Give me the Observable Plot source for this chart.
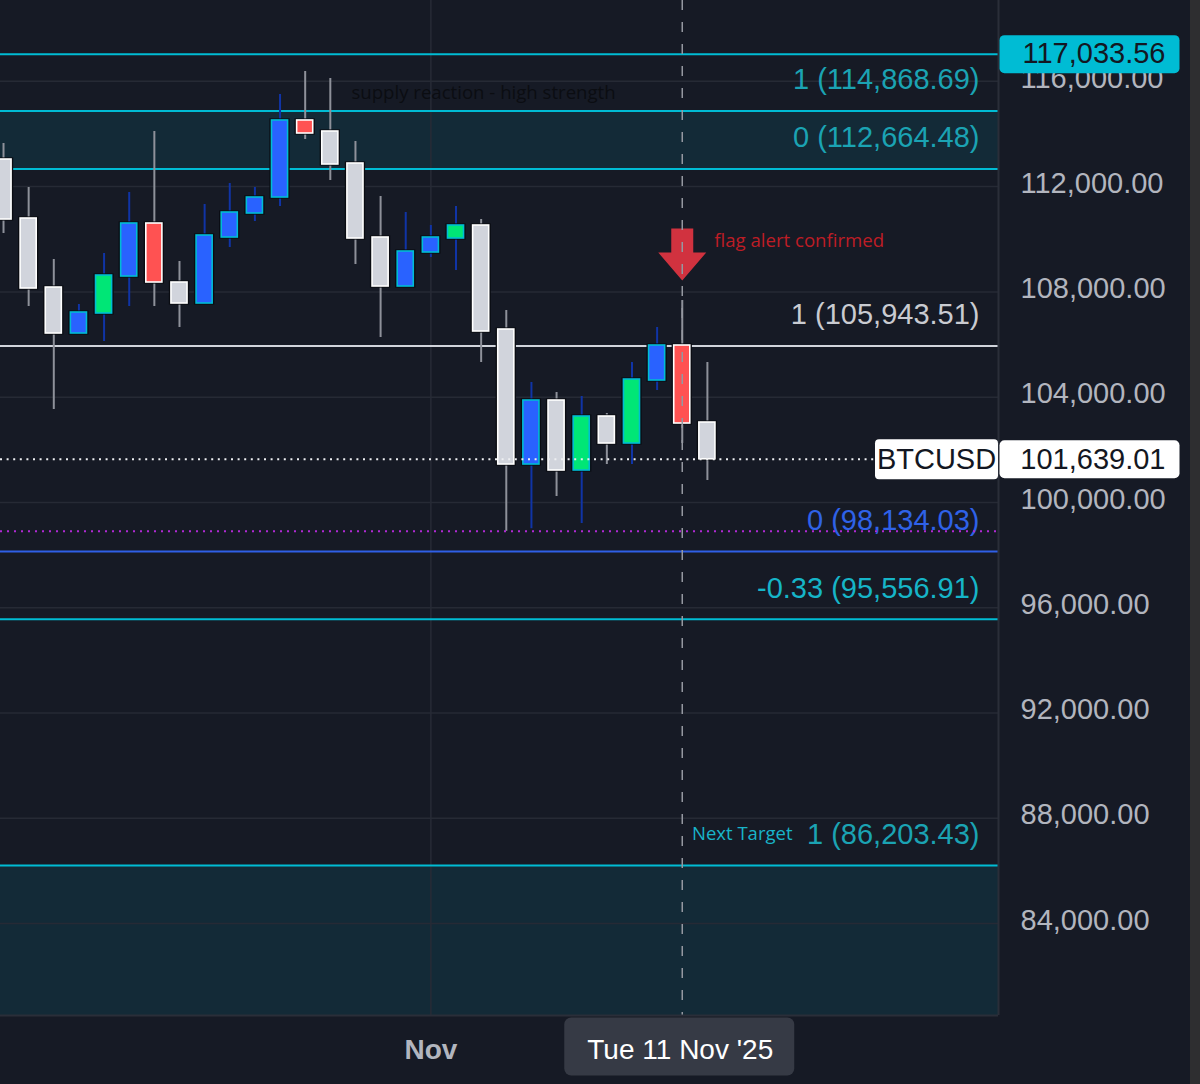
<!DOCTYPE html>
<html><head><meta charset="utf-8">
<script src="https://cdn.jsdelivr.net/npm/d3@7"></script>
<script src="https://cdn.jsdelivr.net/npm/@observablehq/plot@0.6"></script>
<style>
html,body{margin:0;padding:0;background:#2e2e30;overflow:hidden}
#chart{width:1190px;height:1084px}
</style></head><body><div id="chart"></div>
<script>
// ---- data (BTCUSD daily candles) ----
const dates = ["2025-10-15","2025-10-16","2025-10-17","2025-10-18","2025-10-19","2025-10-20","2025-10-21","2025-10-22","2025-10-23","2025-10-24","2025-10-25","2025-10-26","2025-10-27","2025-10-28","2025-10-29","2025-10-30","2025-10-31","2025-11-01","2025-11-02","2025-11-03","2025-11-04","2025-11-05","2025-11-06","2025-11-07","2025-11-08","2025-11-09","2025-11-10","2025-11-11","2025-11-12"];
const opens  = [113030,110788,108166,106418,107178,108584,110598,108356,107558,110066,110978,111586,114513,114094,112878,110066,108204,109496,110028,110522,106570,101440,103872,101212,103264,102238,104632,105962,103036];
const highs  = [113638,111966,109230,107520,109458,111776,114094,109154,111320,112118,111966,115500,116374,116109,113714,111624,111016,110522,111244,110750,107292,104556,104176,104024,103378,105316,106646,107672,105316];
const lows   = [110218,107444,103530,106380,106114,107444,107444,106646,107558,109686,110674,111244,113790,112232,109040,106266,108204,109306,108812,105316,98900,99000,100224,99198,101440,101440,104252,102238,100832];
const closes = [110750,108128,106418,107216,108622,110598,108356,107558,110142,111016,111586,114513,114018,112840,110028,108204,109534,110066,110522,106494,101440,103872,101212,103264,102238,104670,105962,102998,101639.01];
const kinds  = ["gray","gray","gray","blue","green","blue","red","gray","blue","blue","blue","blue","red","gray","gray","gray","blue","blue","green","gray","gray","blue","gray","green","gray","green","blue","red","gray"];

// Fibonacci-style levels
const levelValues = [117033.56, 114868.69, 112664.48, 105943.51, 98134.03, 95556.91, 86203.43];
const levelRatios = [null, "1", "0", "1", "0", "-0.33", "1"];
const levelKinds  = ["cyan", "cyan", "cyan", "white", "blue", "cyan", "cyan"];
const zoneTop = [114868.69, 86203.43];
const zoneBottom = [112664.48, null];

const lastPrice = 101639.01;
const priorLow = 98900;
const symbolName = "BTCUSD";
const priceTicks = [84000, 88000, 92000, 96000, 100000, 104000, 108000, 112000, 116000];
const monthLabel = {date: "2025-11-01", text: "Nov"};
const cursorLabel = {date: "2025-11-11", text: "Tue 11 Nov '25"};
const supplyNote = {date: "2025-10-29", value: 114868.69, text: "supply reaction - high strength"};
const flagNote = {date: "2025-11-11", text: "flag alert confirmed"};
const targetNote = "Next Target";

// ---- styles ----
const BG = "#161a25";
const lineColor = {cyan: "#00bcd4", white: "#d1d4dc", blue: "#2f5fe6"};
const labelColor = {cyan: "#1ba3b3", white: "#c9cbd1", blue: "#2f62e8"};
const bodyFill = {gray: "#d1d4dc", red: "#ff5252", blue: "#2962ff", green: "#00e676"};
const bodyStroke = {gray: "#ffffff", red: "#ffffff", blue: "#00bcd4", green: "#00bcd4"};
const wickColor = {gray: "#8e919a", red: "#8e919a", blue: "#1034a6", green: "#1034a6"};
const NUM_FONT = "Liberation Sans, Arial, sans-serif";
const NOTE_FONT = "Open Sans, sans-serif";

const DAY = 864e5;
const parse = s => new Date(s + "T00:00:00Z");
const shift = (d, k) => new Date(+d + k * DAY);
const fmt = d3.format(",.2f");

const candles = dates.map((d, i) => ({date: parse(d), open: opens[i], high: highs[i], low: lows[i], close: closes[i], kind: kinds[i]}));
const levels = levelValues.map((v, i) => ({value: v, ratio: levelRatios[i], kind: levelKinds[i]}));
const labeled = levels.filter(d => d.ratio !== null).map(d => ({...d, label: `${d.ratio} (${fmt(d.value)})`, color: d.value === 95556.91 ? "#16b5c8" : labelColor[d.kind]}));

const yDomain = [80503, 119072];
const t0 = parse(dates[0]);
const xDomain = [shift(t0, -0.12), shift(t0, 39.58)];
const zones = zoneTop.map((t, i) => ({hi: t, lo: zoneBottom[i] ?? yDomain[0]}));

const nov11 = parse(cursorLabel.date);
const nov11Candle = candles.find(c => +c.date === +nov11);

// custom symbols
function boxSymbol(w, h, r) {
  return {draw(ctx) {
    const x0 = -w / 2, x1 = w / 2, y0 = -h / 2, y1 = h / 2;
    ctx.moveTo(x0 + r, y0);
    ctx.lineTo(x1 - r, y0); ctx.arcTo(x1, y0, x1, y0 + r, r);
    ctx.lineTo(x1, y1 - r); ctx.arcTo(x1, y1, x1 - r, y1, r);
    ctx.lineTo(x0 + r, y1); ctx.arcTo(x0, y1, x0, y1 - r, r);
    ctx.lineTo(x0, y0 + r); ctx.arcTo(x0, y0, x0 + r, y0, r);
    ctx.closePath();
  }};
}
const arrowDown = {draw(ctx) {
  ctx.moveTo(-11, -26); ctx.lineTo(11, -26); ctx.lineTo(11, -2); ctx.lineTo(24, -2);
  ctx.lineTo(0, 26); ctx.lineTo(-24, -2); ctx.lineTo(-11, -2); ctx.closePath();
}};

const priceTags = [{value: levelValues[0], fill: "#00bcd4"}, {value: lastPrice, fill: "#ffffff"}];

const chart = Plot.plot({
  width: 1190, height: 1084,
  marginLeft: 0, marginRight: 192, marginTop: 0, marginBottom: 69,
  style: {background: BG, fontFamily: NUM_FONT, color: "#b2b5be", overflow: "visible"},
  x: {type: "utc", domain: xDomain, axis: null},
  y: {domain: yDomain},
  marks: [
    // zones
    Plot.rect(zones, {y1: "lo", y2: "hi", fill: "#00bcd4", fillOpacity: 0.1}),
    // grid
    Plot.gridY(priceTicks, {stroke: "#262a35", strokeOpacity: 1, strokeWidth: 1.5}),
    Plot.ruleX([parse(monthLabel.date)], {stroke: "#272b36", strokeWidth: 1.5}),
    // level lines
    Plot.ruleY(levels, {y: "value", stroke: d => lineColor[d.kind], strokeWidth: 2}),
    // level labels
    Plot.text(labeled, {y: "value", text: "label", frameAnchor: "right", dx: -19, dy: -31, textAnchor: "end", fill: "color", fontSize: 29, fontFamily: NUM_FONT}),
    Plot.text([targetNote], {y: [levelValues[6]], text: d => d, frameAnchor: "right", dx: -206, dy: -31, textAnchor: "end", fill: "#19b4c9", fontSize: 18.5, fontFamily: NOTE_FONT}),
    // candles
    Plot.ruleX(candles, {x: "date", y1: "low", y2: "high", stroke: d => wickColor[d.kind], strokeWidth: 2}),
    Plot.rect(candles, {x1: d => shift(d.date, -0.34), x2: d => shift(d.date, 0.34), y1: "open", y2: "close", fill: "none", stroke: "#0a0c12", strokeWidth: 3.2}),
    Plot.rect(candles, {x1: d => shift(d.date, -0.32), x2: d => shift(d.date, 0.32), y1: "open", y2: "close", fill: d => bodyFill[d.kind], stroke: d => bodyStroke[d.kind], strokeWidth: 1.6}),
    // notes
    Plot.text([supplyNote], {x: d => parse(d.date), y: "value", text: "text", dx: -4, dy: -18, textAnchor: "start", fill: "#0b0d12", fontSize: 18.6, fontFamily: NOTE_FONT}),
    Plot.dot([nov11Candle], {x: "date", y: "high", dy: -46, symbol: arrowDown, fill: "#d1323f", r: 5}),
    Plot.text([flagNote], {x: d => parse(d.date), y: () => nov11Candle.high, text: "text", dx: 32, dy: -59, textAnchor: "start", fill: "#bd1d25", fontSize: 18.6, fontFamily: NOTE_FONT}),
    // dotted price lines
    Plot.ruleY([priorLow], {stroke: "#b02ad4", strokeWidth: 2, strokeDasharray: "2,5"}),
    Plot.ruleY([lastPrice], {stroke: "#eeeff2", strokeWidth: 2, strokeDasharray: "2,4.6"}),
    // crosshair
    Plot.ruleX([nov11], {stroke: "#9598a1", strokeWidth: 1.5, strokeDasharray: "10,12"}),
    // frame borders
    Plot.ruleX([xDomain[1]], {stroke: "#2a2e39", strokeWidth: 2}),
    Plot.ruleY([yDomain[0]], {stroke: "#2a2e39", strokeWidth: 2}),
    // price axis
    Plot.axisY(priceTicks, {anchor: "right", tickSize: 0, tickPadding: 22, tickFormat: fmt, label: null, fill: "#b2b5be", fontSize: 29, fontFamily: NUM_FONT, dy: -3}),
    // price tags
    Plot.dot(priceTags, {y: "value", frameAnchor: "right", dx: 91, symbol: boxSymbol(180, 38, 5), fill: "fill", r: 5}),
    Plot.text(priceTags, {y: "value", text: d => fmt(d.value), frameAnchor: "right", dx: 167, textAnchor: "end", fill: "#131722", fontSize: 29, fontFamily: NUM_FONT}),
    Plot.dot([lastPrice], {y: d => d, frameAnchor: "right", dx: -62, symbol: boxSymbol(123, 40, 4), fill: "#ffffff", r: 5}),
    Plot.text([symbolName], {y: [lastPrice], text: d => d, frameAnchor: "right", dx: -62, textAnchor: "middle", fill: "#131722", fontSize: 29, fontFamily: NUM_FONT}),
    // time axis
    Plot.text([monthLabel], {x: d => parse(d.date), text: "text", frameAnchor: "bottom", dy: 35, lineAnchor: "middle", fill: "#b2b5be", fontSize: 28, fontFamily: NUM_FONT, fontWeight: 600}),
    Plot.dot([cursorLabel], {x: d => parse(d.date), frameAnchor: "bottom", dx: -3, dy: 31, symbol: boxSymbol(230, 58, 7), fill: "#363a45", r: 5}),
    Plot.text([cursorLabel], {x: d => parse(d.date), text: "text", frameAnchor: "bottom", dx: -2, dy: 35, lineAnchor: "middle", fill: "#ffffff", fontSize: 28, fontFamily: NUM_FONT})
  ]
});
document.getElementById("chart").appendChild(chart);
</script>
</body></html>
